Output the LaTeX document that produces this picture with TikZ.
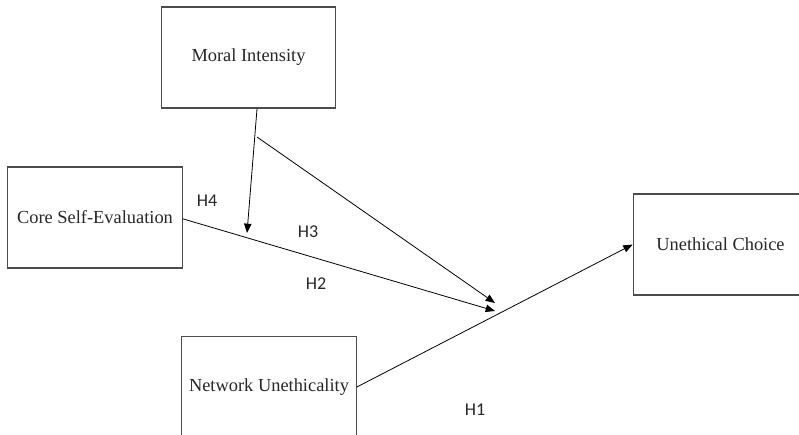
\documentclass[tikz,border=0pt]{standalone}
\usepackage{fontspec}
\setmainfont{Liberation Serif}
\newfontfamily\hypfont{Carlito}
\usetikzlibrary{arrows.meta}

\begin{document}
\begin{tikzpicture}[x=0.75pt, y=-0.75pt,
  every node/.style={font=\fontsize{13.8}{16}\selectfont, text=black!85},
  construct/.style={draw=black!70, line width=0.8pt, minimum width=131pt, minimum height=75.75pt, inner sep=0pt},
  link/.style={-{Triangle[length=7pt, width=5.5pt]}, line width=0.6pt},
  hyp/.style={font=\hypfont\fontsize{13.5}{16}\selectfont}]

\useasboundingbox (0,0) rectangle (799,435);
\clip (0,0) rectangle (799,435);

\node[construct] (moral) at (248.5,57.5) {Moral Intensity};
\node[construct] (core) at (95,217.5) {Core Self-Evaluation};
\node[construct] (network) at (269,387) {Network Unethicality};
\node[construct] (choice) at (720.5,244.5) {Unethical Choice};

\coordinate (modstart) at (257,137);
\coordinate (modcore) at (247,233);
\coordinate (modnet) at (495,303);
\coordinate (corenet) at (495,311);

\draw[link] ([xshift=6.4pt]moral.south) -- (modcore);
\draw[link] (modstart) -- (modnet);
\draw[link] ([yshift=-1pt]core.east) -- (corenet);
\draw[link] (network.east) -- (choice.west);

\node[hyp] (h4) at (207,201) {H4};
\node[hyp] (h3) at (308,232) {H3};
\node[hyp] (h2) at (316,284) {H2};
\node[hyp] (h1) at (475,410) {H1};
\end{tikzpicture}
\end{document}
